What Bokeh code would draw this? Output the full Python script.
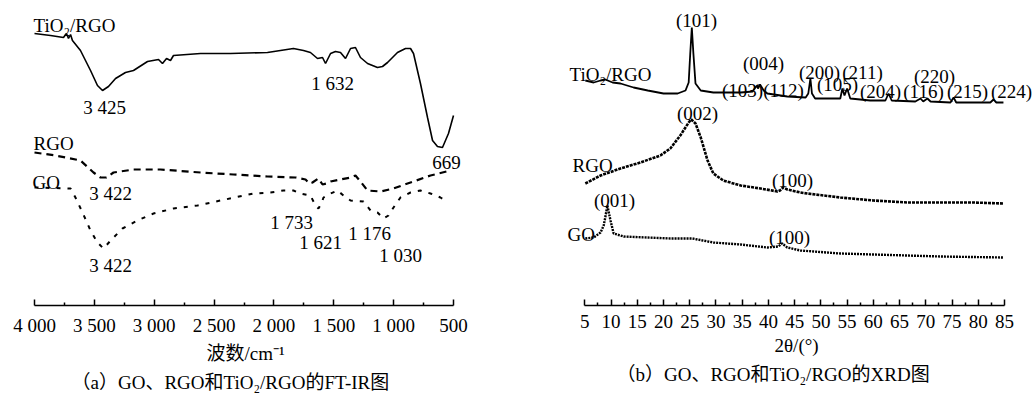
from bokeh.plotting import figure
from bokeh.layouts import row
from bokeh.models import Range1d, FixedTicker, Label, Title
from bokeh.embed import file_html
from bokeh.resources import INLINE

# ---------------- FT-IR data (wavenumber cm-1, transmittance a.u.) ----------------
ir_tio2_wn = [4000, 3866, 3758, 3733, 3716, 3699, 3683, 3616, 3532, 3474, 3432, 3382, 3323, 3240, 3173,
              3056, 2964, 2931, 2897, 2864, 2839, 2613, 2363, 2054, 1837, 1753, 1695, 1636, 1594, 1569,
              1527, 1486, 1444, 1402, 1360, 1319, 1277, 1218, 1135, 1093, 1051, 968, 901, 859, 834,
              776, 717, 675, 634, 592, 542, 500]
ir_tio2_t = [272, 270, 268, 272, 267, 271, 265, 255, 235, 220, 215, 219, 227, 233, 235,
             244, 246, 242, 247, 245, 250, 252, 252, 253, 257, 255, 253, 247, 248, 242,
             252, 254, 253, 247, 257, 258, 248, 242, 238, 239, 243, 253, 257, 257, 252,
             222, 188, 165, 159, 158, 172, 190]

ir_rgo_wn = [4000, 3825, 3616, 3507, 3449, 3399, 3340, 3173, 2948, 2613, 2338, 2054, 1820, 1736, 1703,
             1678, 1628, 1594, 1561, 1527, 1444, 1360, 1319, 1277, 1218, 1110, 1001, 859, 692, 525]
ir_rgo_t = [153, 150, 145, 133, 128, 128, 133, 136, 136, 133, 131, 129, 128, 126, 122,
            123, 127, 121, 122, 124, 126, 128, 130, 124, 115, 114, 117, 123, 130, 135]

ir_go_wn = [4000, 3699, 3658, 3599, 3532, 3474, 3424, 3348, 3265, 3140, 3006, 2839, 2638, 2446, 2171,
            2029, 1920, 1837, 1778, 1695, 1653, 1628, 1603, 1586, 1527, 1469, 1419, 1360, 1252, 1193,
            1135, 1085, 1043, 1001, 943, 859, 776, 692, 609, 550]
ir_go_t = [118, 117, 108, 93, 75, 63, 57, 67, 77, 85, 92, 97, 100, 105, 112,
           113, 115, 115, 112, 110, 100, 97, 102, 108, 112, 115, 110, 105, 104, 95,
           93, 87, 90, 98, 108, 113, 115, 112, 108, 104]

ir_ticks = [4000, 3500, 3000, 2500, 2000, 1500, 1000, 500]
ir_tick_labels = ["4 000", "3 500", "3 000", "2 500", "2 000", "1 500", "1 000", "500"]
ir_minor = [3750, 3250, 2750, 2250, 1750, 1250, 750]

# ---------------- XRD data (2theta deg, intensity a.u.) ----------------
xrd_tio2_2t = [5.1, 6.7, 8.0, 8.9, 10.3, 11.8, 14.3, 17.0, 20.0, 22.7, 24.2, 24.8, 25.1, 25.4, 25.7,
               26.1, 27.1, 29.5, 34.7, 37.0, 37.5, 37.9, 38.0, 38.4, 39.1, 39.8, 43.6, 47.1, 47.6,
               48.0, 48.3, 48.9, 52.8, 53.7, 54.1, 54.5, 55.0, 55.6, 59.4, 62.3, 62.9, 63.5, 68.0,
               69.0, 69.5, 70.3, 70.9, 74.7, 75.3, 75.8, 82.3, 82.9, 83.4, 84.8]
xrd_tio2_i = [225, 223, 225, 226, 223, 222, 218, 215, 212, 212, 215, 223, 252, 278, 252,
              222, 215, 213, 213, 214, 218, 220, 217, 221, 215, 212, 209, 208, 212,
              227, 212, 207, 207, 207, 217, 210, 217, 207, 205, 205, 212, 205, 204,
              207, 204, 207, 204, 203, 208, 203, 203, 206, 203, 203]

xrd_rgo_2t = [5.1, 8.0, 11.8, 15.6, 19.4, 21.3, 23.2, 24.8, 25.3, 26.1, 27.1, 28.4, 29.5, 31.4, 34.7,
              38.5, 41.7, 42.2, 42.8, 43.6, 46.1, 47.4, 53.7, 60.0, 66.5, 72.8, 79.1, 84.8]
xrd_rgo_i = [122, 130, 137, 143, 150, 157, 170, 183, 186, 182, 168, 145, 132, 125, 120,
             117, 114, 115, 118, 116, 113, 112, 108, 105, 103, 103, 103, 102]

xrd_go_2t = [5.1, 6.7, 8.0, 8.6, 8.9, 9.3, 9.9, 10.5, 12.4, 17.0, 21.3, 25.5, 29.5, 34.7, 39.8,
             41.9, 42.6, 43.6, 46.1, 53.7, 60.0, 72.8, 84.8]
xrd_go_i = [67, 68, 73, 80, 88, 100, 85, 72, 69, 68, 67, 67, 63, 61, 58,
            59, 62, 58, 55, 52, 51, 49, 48]

xrd_ticks = list(range(5, 90, 5))
xrd_minor = [t + 2.5 for t in range(5, 85, 5)]

SERIF = "Liberation Serif"
MIXED = "'Liberation Serif', 'Noto Sans CJK SC'"
FS = "19px"
AXIS_Y = 305  # page row of the x axis line (frame bottom)


def style_axis(p, ticks, minor, bounds, overrides=None):
    ax = p.xaxis[0]
    ax.ticker = FixedTicker(ticks=ticks, minor_ticks=minor)
    ax.bounds = bounds
    if overrides:
        ax.major_label_overrides = overrides
    ax.axis_line_color = "black"
    ax.axis_line_width = 1.5
    ax.major_tick_line_color = "black"
    ax.major_tick_line_width = 1.5
    ax.minor_tick_line_color = "black"
    ax.minor_tick_line_width = 1.5
    ax.major_tick_in = 6
    ax.major_tick_out = 0
    ax.minor_tick_in = 3
    ax.minor_tick_out = 0
    ax.major_label_standoff = 9
    ax.major_label_text_font = SERIF
    ax.major_label_text_font_size = FS
    ax.major_label_text_color = "black"
    p.xgrid.visible = False
    p.ygrid.visible = False
    p.outline_line_color = None


def add_below_text(p, text, offset, size, standoff):
    p.add_layout(Title(text=text, align="left", offset=offset, text_font=MIXED,
                       text_font_size=size, text_font_style="normal", text_color="black",
                       standoff=standoff), "below")


def make_lab(frame_left):
    def lab(p, px, py, text, align="center", style="normal"):
        # annotation positioned in pixels relative to the plot frame
        p.add_layout(Label(x=px - frame_left, y=AXIS_Y - py, x_units="screen", y_units="screen",
                           text=text, text_align=align, text_baseline="alphabetic",
                           text_font=SERIF, text_font_size=FS, text_color="black",
                           text_font_style=style))
    return lab


# ---------------- Panel (a) FT-IR ----------------
# frame spans page x 0..540; axis 4000..500 occupies page x 34..453
ir_scale = 3500 / 419.0
p1 = figure(frame_width=540, frame_height=305,
            x_range=Range1d(4000 + 34 * ir_scale, 500 - 87 * ir_scale), y_range=Range1d(0, 305),
            output_backend="svg", toolbar_location=None, y_axis_location=None,
            min_border_left=0, min_border_right=0, min_border_top=0, min_border_bottom=0)
style_axis(p1, ir_ticks, ir_minor, (500, 4000), {t: s for t, s in zip(ir_ticks, ir_tick_labels)})
add_below_text(p1, "波数/cm⁻¹", 206, FS, 4)
add_below_text(p1, "（a）GO、RGO和TiO₂/RGO的FT-IR图", 71, FS, 9)

p1.line(ir_tio2_wn, ir_tio2_t, line_color="black", line_width=1.6)
p1.line(ir_rgo_wn, ir_rgo_t, line_color="black", line_width=2.2, line_dash="7 5")
p1.line(ir_go_wn, ir_go_t, line_color="black", line_width=2.0, line_dash="4 7")

la = make_lab(0)
la(p1, 33, 25, "TiO₂/RGO", "left")
la(p1, 104, 107, "3 425")
la(p1, 332, 83, "1 632")
la(p1, 33, 143, "RGO", "left")
la(p1, 446, 162, "669")
la(p1, 32, 182, "GO", "left")
la(p1, 110, 193, "3 422")
la(p1, 110, 265, "3 422")
la(p1, 291, 222, "1 733")
la(p1, 320, 242, "1 621")
la(p1, 369, 233, "1 176")
la(p1, 400, 255, "1 030")

# ---------------- Panel (b) XRD ----------------
# frame spans page x 540..1034; axis 5..85 occupies page x 584.3..1004
xrd_scale = 80 / 419.7
p2 = figure(frame_width=494, frame_height=305,
            x_range=Range1d(5 - 44.3 * xrd_scale, 85 + 30 * xrd_scale), y_range=Range1d(0, 305),
            output_backend="svg", toolbar_location=None, y_axis_location=None,
            min_border_left=0, min_border_right=0, min_border_top=0, min_border_bottom=0)
style_axis(p2, xrd_ticks, xrd_minor, (5, 85))
add_below_text(p2, "2θ/(°)", 234, FS, 4)
add_below_text(p2, "（b）GO、RGO和TiO₂/RGO的XRD图", 76, FS, 9)

p2.line(xrd_tio2_2t, xrd_tio2_i, line_color="black", line_width=1.8)
p2.line(xrd_rgo_2t, xrd_rgo_i, line_color="black", line_width=2.6, line_dash="3 1")
p2.line(xrd_go_2t, xrd_go_i, line_color="black", line_width=2.4, line_dash="2 1")

lb = make_lab(540)
lb(p2, 569, 74, "TiO₂/RGO", "left")
lb(p2, 696, 20, "(101)")
lb(p2, 763, 63, "(004)")
lb(p2, 819, 72, "(200)")
lb(p2, 862, 72, "(211)")
lb(p2, 934, 76, "(220)")
lb(p2, 742, 90, "(103)")
lb(p2, 783, 90, "(112)")
lb(p2, 837, 84, "(105)")
lb(p2, 880, 91, "(204)")
lb(p2, 923, 91, "(116)")
lb(p2, 967, 91, "(215)")
lb(p2, 1011, 91, "(224)")
lb(p2, 697, 113, "(002)")
lb(p2, 572, 165, "RGO", "left")
lb(p2, 792, 180, "(100)")
lb(p2, 614, 200, "(001)")
lb(p2, 567, 234, "GO", "left")
lb(p2, 789, 237, "(100)")

layout = row(p1, p2)
open("out.html", "w").write(file_html(layout, INLINE))
